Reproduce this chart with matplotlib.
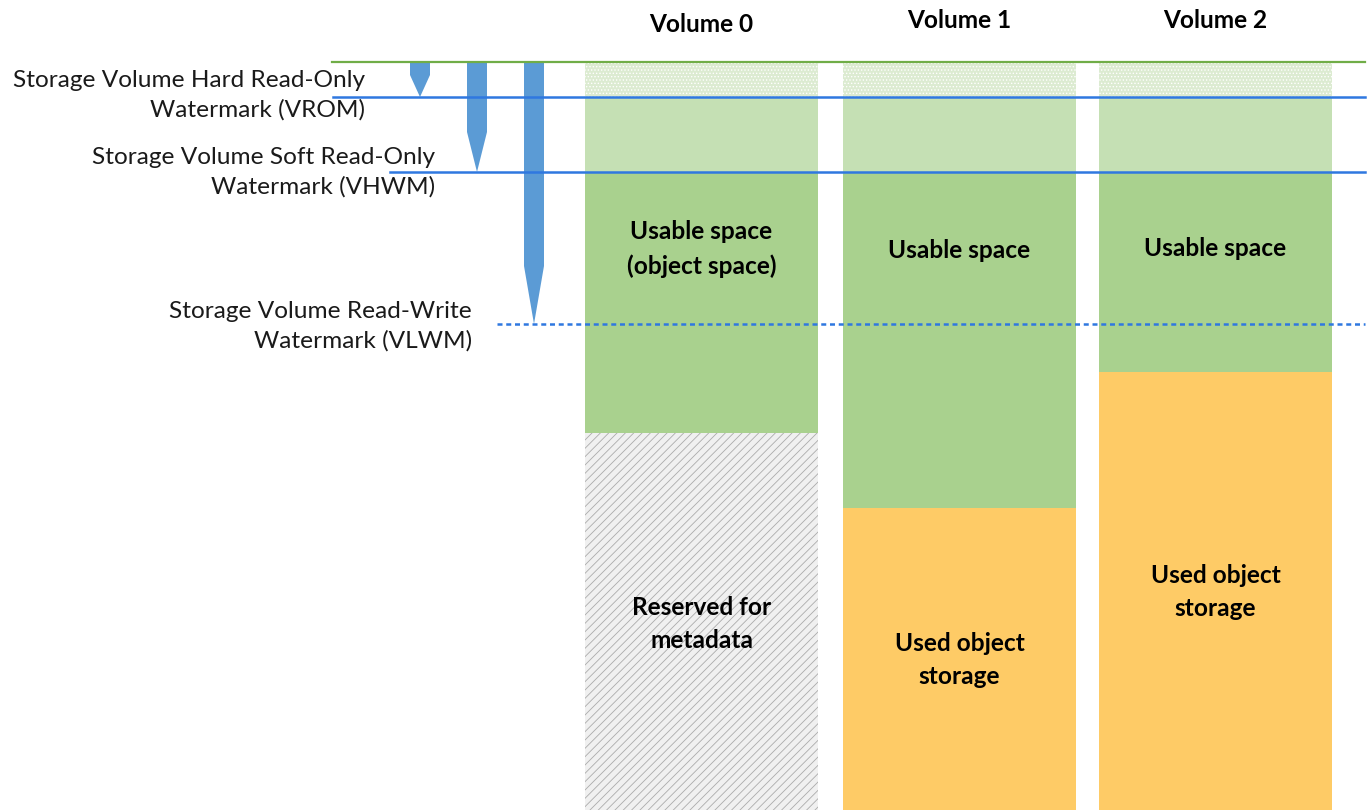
import matplotlib.pyplot as plt
from matplotlib.patches import Polygon

plt.rcParams['font.family'] = ['Lato', 'DejaVu Sans']
plt.rcParams['hatch.linewidth'] = 0.6

# capacity units, 0 = bottom of the volumes, 748 = top
volumes = ["Volume 0", "Volume 1", "Volume 2"]
used = [377, 302, 438]
used_labels = ["Reserved for\nmetadata", "Used object\nstorage", "Used object\nstorage"]
usable_labels = ["Usable space\n(object space)", "Usable space", "Usable space"]
top = 748
vrom = 713
vhwm = 638
vlwm = 486
wm_names = ["Storage Volume Hard Read-Only\nWatermark (VROM)",
            "Storage Volume Soft Read-Only\nWatermark (VHWM)",
            "Storage Volume Read-Write\nWatermark (VLWM)"]

green = '#a9d18e'
light_green = '#c5e0b4'
dot_green = '#dcebd1'
orange = '#fecb66'
blue = '#5b9bd5'
line_blue = '#2f78e0'

fig = plt.figure(figsize=(13.71, 8.10), dpi=100)
ax = fig.add_axes([0, 0, 1, 1])
ax.set_xlim(0, 1371)
ax.set_ylim(0, 810)
ax.axis('off')

xs = [701.5, 959.5, 1215.5]
w = 233

for i, x in enumerate(xs):
    if i == 0:
        ax.bar(x, used[i], w, color='#f0f0f0', edgecolor='#ababab', hatch='////', linewidth=0)
    else:
        ax.bar(x, used[i], w, color=orange, linewidth=0)
    ax.bar(x, vhwm - used[i], w, bottom=used[i], color=green, linewidth=0)
    ax.bar(x, vrom - vhwm, w, bottom=vhwm, color=light_green, linewidth=0)
    ax.bar(x, top - vrom, w, bottom=vrom, color=dot_green, edgecolor='white',
           hatch='.....', linewidth=0)

# watermark lines
ax.plot([332, 1365], [top, top], color='#70ad47', lw=1.6)
ax.plot([333, 1365], [vrom, vrom], color=line_blue, lw=1.8)
ax.plot([390, 1365], [vhwm, vhwm], color=line_blue, lw=1.8)
ax.plot([497, 1365], [vlwm, vlwm], color=line_blue, lw=1.8, linestyle=(0, (2, 1.5)))

# pointer arrows
for cx, level, tip in [(420, vrom, 22), (477, vhwm, 40), (534, vlwm, 58)]:
    pts = [(cx - 10, top), (cx + 10, top), (cx + 10, level + tip),
           (cx, level), (cx - 10, level + tip)]
    ax.add_patch(Polygon(pts, closed=True, color=blue, lw=0))

# watermark labels
fs = 17.6
ax.text(365, 810 - 95, wm_names[0], ha='right', va='center', fontsize=fs,
        linespacing=1.45, color='#1a1a1a')
ax.text(435, 810 - 172, wm_names[1], ha='right', va='center', fontsize=fs,
        linespacing=1.45, color='#1a1a1a')
ax.text(472, 810 - 326, wm_names[2], ha='right', va='center', fontsize=fs,
        linespacing=1.45, color='#1a1a1a')

# headers
for x, name, y in zip(xs, volumes, [785, 790, 790]):
    ax.text(x, y, name, ha='center', va='center', fontsize=fs, fontweight='bold')

usable_y = [561, 559, 562]
used_y = [186, 150, 218]
for i, x in enumerate(xs):
    ax.text(x, usable_y[i], usable_labels[i], ha='center', va='center', fontsize=fs,
            fontweight='bold', linespacing=1.55)
    ax.text(x, used_y[i], used_labels[i], ha='center', va='center', fontsize=fs,
            fontweight='bold', linespacing=1.55)

fig.savefig('out.png', dpi=100)
